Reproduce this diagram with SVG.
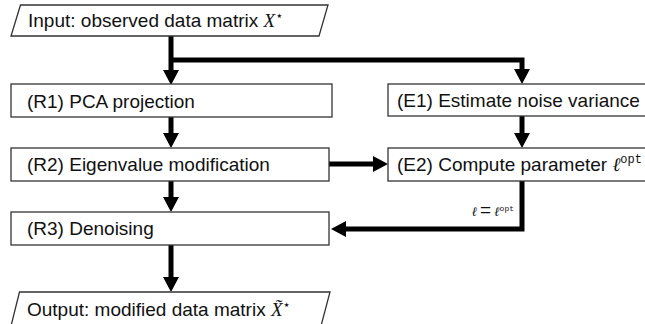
<svg xmlns="http://www.w3.org/2000/svg" width="645" height="324" viewBox="0 0 645 324">
<style>
.box{fill:#fff;stroke:#333;stroke-width:1.3}
.t{font-family:"Liberation Sans",Arial,sans-serif;font-size:19px;fill:#111}
.m{font-family:"Liberation Serif","DejaVu Serif",serif;font-style:italic;fill:#111}
.tt{font-family:"Liberation Mono","DejaVu Sans Mono",monospace;fill:#111}
.st{font-family:"DejaVu Sans",sans-serif;font-size:13px;fill:#111}
.c{fill:none;stroke:#000;stroke-width:5;marker-end:url(#ah)}
</style>
<defs>
<marker id="ah" markerUnits="userSpaceOnUse" markerWidth="15" markerHeight="16" refX="4" refY="8" orient="auto">
<path d="M0,0 L15,8 L0,16 z" fill="#000"/>
</marker>
</defs>
<g id="connectors">
<path class="c" d="M171,36 V74"/>
<path class="c" d="M171,60 H522 V73"/>
<path class="c" d="M171,117 V137"/>
<path class="c" d="M171,181 V201"/>
<path class="c" d="M171,245 V281"/>
<path class="c" d="M522,116 V137"/>
<path class="c" d="M329,164 H377"/>
<path class="c" d="M522,181 V229 H342"/>
<text x="514" y="216" text-anchor="end"><tspan class="m" font-size="13">ℓ</tspan><tspan class="t" font-size="12" font-style="normal" dx="3">=</tspan><tspan class="m" font-size="13" dx="3">ℓ</tspan><tspan class="tt" font-size="8" dy="-5">opt</tspan></text>
</g>
<g id="input">
<polygon class="box" points="20.5,5 328,5 319,36 11,36"/>
<text class="t" x="28" y="27">Input: observed data matrix <tspan class="m" font-size="19">X</tspan><tspan class="st" dy="-7">⋆</tspan></text>
</g>
<g id="r1">
<rect class="box" x="11" y="84" width="321" height="33"/>
<text class="t" x="27" y="107.5">(R1) PCA projection</text>
</g>
<g id="r2">
<rect class="box" x="11" y="148" width="318" height="33"/>
<text class="t" x="27" y="171">(R2) Eigenvalue modification</text>
</g>
<g id="r3">
<rect class="box" x="11" y="212" width="318" height="33"/>
<text class="t" x="27" y="235">(R3) Denoising</text>
</g>
<g id="e1">
<rect class="box" x="388" y="84" width="270" height="32"/>
<text class="t" x="397" y="106.5">(E1) Estimate noise variance</text>
</g>
<g id="e2">
<rect class="box" x="388" y="148" width="270" height="33"/>
<text class="t" x="397" y="171">(E2) Compute parameter <tspan class="m" font-size="19">ℓ</tspan><tspan class="tt" font-size="12" dy="-8">opt</tspan></text>
</g>
<g id="output">
<polygon class="box" points="19.5,292 330,292 321,326 11,326"/>
<text class="t" x="27" y="316">Output: modified data matrix <tspan class="m" font-size="19">X̃</tspan><tspan class="st" dy="-7">⋆</tspan></text>
</g>
</svg>
